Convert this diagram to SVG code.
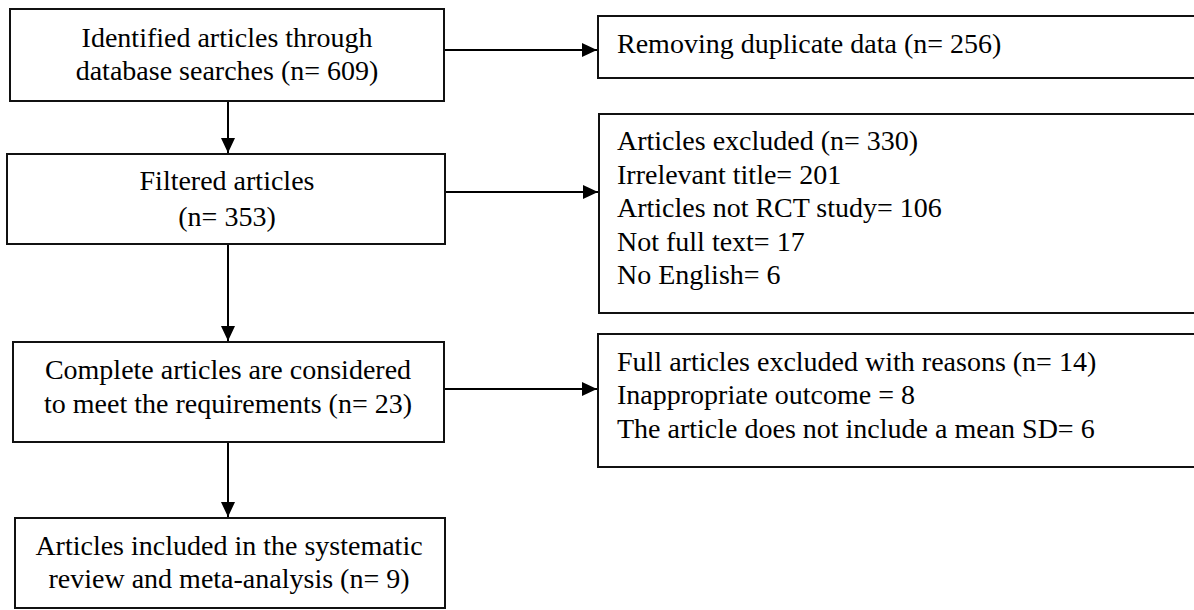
<svg xmlns="http://www.w3.org/2000/svg" width="1194" height="610" viewBox="0 0 1194 610">
<defs>
<style>
.box{fill:#fff;stroke:#111;stroke-width:2}
.t{font-family:"Liberation Serif","Times New Roman",serif;font-size:28px;fill:#000}
.c{text-anchor:middle}
.ln{stroke:#000;stroke-width:2;fill:none}
</style>
<marker id="ah" markerUnits="userSpaceOnUse" markerWidth="16" markerHeight="14" refX="15" refY="7" orient="auto">
<path d="M0,0 L15,7 L0,14 Z" fill="#000"/>
</marker>
</defs>
<rect width="1194" height="610" fill="#fff"/>
<g id="connectors">
<line class="ln" x1="228" y1="101" x2="228" y2="153" marker-end="url(#ah)"/>
<line class="ln" x1="228" y1="244" x2="228" y2="341" marker-end="url(#ah)"/>
<line class="ln" x1="228" y1="442" x2="228" y2="517" marker-end="url(#ah)"/>
<line class="ln" x1="444" y1="50" x2="597" y2="50" marker-end="url(#ah)"/>
<line class="ln" x1="445" y1="192" x2="598" y2="192" marker-end="url(#ah)"/>
<line class="ln" x1="444" y1="389" x2="597" y2="389" marker-end="url(#ah)"/>
</g>
<g id="n1">
<rect class="box" x="10" y="9" width="434" height="92"/>
<text class="t c" x="227" y="47">Identified articles through</text>
<text class="t c" x="227" y="80">database searches (n= 609)</text>
</g>
<g id="n2">
<rect class="box" x="7" y="154" width="438" height="90"/>
<text class="t c" x="227" y="190">Filtered articles</text>
<text class="t c" x="227" y="226">(n= 353)</text>
</g>
<g id="n3">
<rect class="box" x="13" y="342" width="431" height="100"/>
<text class="t c" x="228" y="379">Complete articles are considered</text>
<text class="t c" x="228" y="413">to meet the requirements (n= 23)</text>
</g>
<g id="n4">
<rect class="box" x="15" y="518" width="430" height="90"/>
<text class="t c" x="229" y="555">Articles included in the systematic</text>
<text class="t c" x="229" y="588">review and meta-analysis (n= 9)</text>
</g>
<g id="r1">
<rect class="box" x="598" y="16" width="600" height="62"/>
<text class="t" x="617" y="53">Removing duplicate data (n= 256)</text>
</g>
<g id="r2">
<rect class="box" x="599" y="114" width="600" height="199"/>
<text class="t" x="617" y="150">Articles excluded (n= 330)</text>
<text class="t" x="617" y="184">Irrelevant title= 201</text>
<text class="t" x="617" y="217">Articles not RCT study= 106</text>
<text class="t" x="617" y="251">Not full text= 17</text>
<text class="t" x="617" y="284">No English= 6</text>
</g>
<g id="r3">
<rect class="box" x="598" y="334" width="600" height="133"/>
<text class="t" x="617" y="371">Full articles excluded with reasons (n= 14)</text>
<text class="t" x="617" y="404">Inappropriate outcome = 8</text>
<text class="t" x="617" y="438">The article does not include a mean SD= 6</text>
</g>
</svg>
